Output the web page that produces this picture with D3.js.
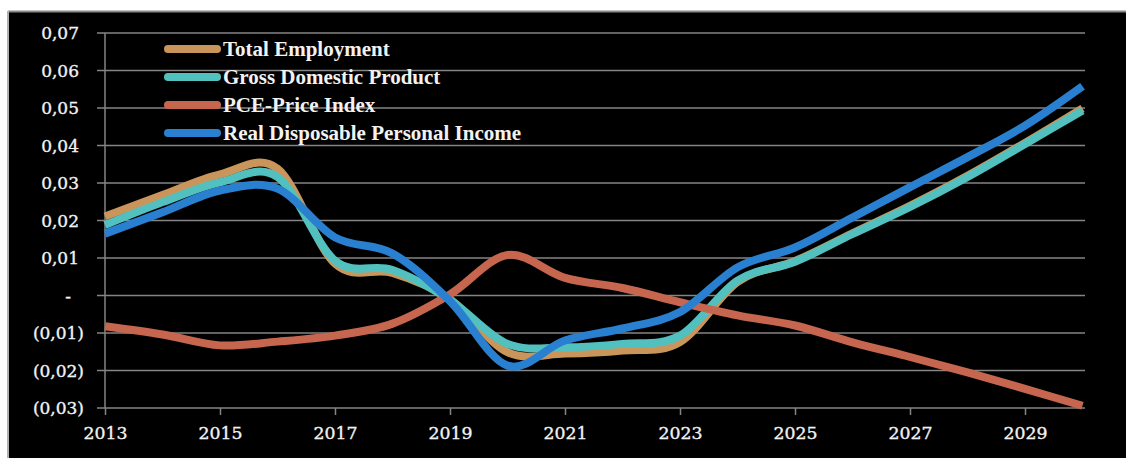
<!DOCTYPE html>
<html>
<head>
<meta charset="utf-8">
<script src="https://cdn.jsdelivr.net/npm/d3@7"></script>
<style>
  html, body { margin: 0; padding: 0; background: #ffffff; }
  svg { display: block; }
  text { fill: #f2f2f2; }
  .tick-label { font-family: "DejaVu Serif", serif; }
  .legend-label { font-family: "Liberation Serif", serif; font-weight: bold; }
</style>
</head>
<body>
<svg id="chart" width="1126" height="458"></svg>
<script>
// Annual growth forecasts, 2013-2030
const years = [2013, 2014, 2015, 2016, 2017, 2018, 2019, 2020, 2021,
               2022, 2023, 2024, 2025, 2026, 2027, 2028, 2029, 2030];

const totalEmployment = [0.0211, 0.0268, 0.0323, 0.0338, 0.0085, 0.0060, -0.0010, -0.0151, -0.0155,
                         -0.0147, -0.0124, 0.0036, 0.0092, 0.0166, 0.0239, 0.0319, 0.0407, 0.0499];
const grossDomesticProduct = [0.0188, 0.0249, 0.0302, 0.0316, 0.0093, 0.0068, -0.0012, -0.0129, -0.0138,
                              -0.0129, -0.0107, 0.0040, 0.0090, 0.0164, 0.0236, 0.0316, 0.0404, 0.0493];
const pcePriceIndex = [-0.0082, -0.0104, -0.0133, -0.0123, -0.0107, -0.0075, 0.0003, 0.0108, 0.0047,
                       0.0020, -0.0018, -0.0053, -0.0080, -0.0125, -0.0164, -0.0205, -0.0249, -0.0294];
const realDisposableIncome = [0.0165, 0.0222, 0.0280, 0.0285, 0.0155, 0.0112, -0.0015, -0.0187, -0.0120,
                              -0.0088, -0.0044, 0.0075, 0.0128, 0.0208, 0.0289, 0.0369, 0.0453, 0.0558];

const seriesNames = ["Total Employment", "Gross Domestic Product", "PCE-Price Index", "Real Disposable Personal Income"];
const seriesColors = ["#c9955a", "#52c0be", "#c7664e", "#2a80d0"];
const seriesValues = [totalEmployment, grossDomesticProduct, pcePriceIndex, realDisposableIncome];

const xTickYears = [2013, 2015, 2017, 2019, 2021, 2023, 2025, 2027, 2029];
const yTickValues = [-0.03, -0.02, -0.01, 0, 0.01, 0.02, 0.03, 0.04, 0.05, 0.06, 0.07];

const svg = d3.select("#chart");

// Black panel with a thin grey frame on the top and left
svg.append("rect").attr("x", 8).attr("y", 11).attr("width", 1118).attr("height", 447).attr("fill", "#000");
svg.append("line").attr("x1", 8).attr("x2", 1126).attr("y1", 11.5).attr("y2", 11.5)
  .attr("stroke", "#8a8a8a").attr("stroke-width", 2);
svg.append("line").attr("x1", 8).attr("x2", 8).attr("y1", 11).attr("y2", 458)
  .attr("stroke", "#b0b0b0").attr("stroke-width", 2);

const x = d3.scaleLinear().domain([2013, 2030]).range([105, 1082.5]);
const y = d3.scaleLinear().domain([-0.03, 0.07]).range([408, 33]);

const numFmt = d3.format(".2f");
function yLabel(v) {
  if (Math.abs(v) < 1e-9) return "-";
  const s = numFmt(Math.abs(v)).replace(".", ",");
  return v < 0 ? "(" + s + ")" : s;
}

// Horizontal gridlines with short outer ticks
const grid = svg.append("g");
grid.selectAll("line").data(yTickValues).join("line")
  .attr("x1", 97).attr("x2", 1085)
  .attr("y1", d => y(d)).attr("y2", d => y(d))
  .attr("stroke", "#858585").attr("stroke-width", 1.5);

// Vertical axis line
svg.append("line").attr("x1", x(2013)).attr("x2", x(2013))
  .attr("y1", y(0.07)).attr("y2", y(-0.03))
  .attr("stroke", "#858585").attr("stroke-width", 1.5);

// Y tick labels: positives leave room for the closing parenthesis
svg.append("g").selectAll("text").data(yTickValues).join("text")
  .attr("class", "tick-label")
  .attr("x", d => d < 0 ? 84 : (Math.abs(d) < 1e-9 ? 71 : 79))
  .attr("y", d => y(d))
  .attr("dy", "0.36em")
  .attr("text-anchor", "end")
  .attr("font-size", 17)
  .attr("stroke", "#f2f2f2").attr("stroke-width", 0.35)
  .text(yLabel);

// X axis ticks and labels
const xAxis = d3.axisBottom(x)
  .tickValues(xTickYears)
  .tickSize(7)
  .tickPadding(12)
  .tickFormat(d => String(d));
const xg = svg.append("g").attr("transform", `translate(0,${y(-0.03)})`).call(xAxis);
xg.attr("font-family", null).attr("font-size", null);
xg.select(".domain").remove();
xg.selectAll(".tick line").attr("stroke", "#858585").attr("stroke-width", 1.5);
xg.selectAll(".tick text")
  .attr("class", "tick-label")
  .attr("font-size", 17.3)
  .attr("fill", "#f2f2f2")
  .attr("stroke", "#f2f2f2").attr("stroke-width", 0.35);

// Smoothed series lines
const line = d3.line()
  .x((d, i) => x(years[i]))
  .y(d => y(d))
  .curve(d3.curveCatmullRom.alpha(0));

const lines = svg.append("g");
seriesValues.forEach((vals, k) => {
  lines.append("path")
    .datum(vals)
    .attr("d", line)
    .attr("fill", "none")
    .attr("stroke", seriesColors[k])
    .attr("stroke-width", 8)
    .attr("stroke-linejoin", "round");
});

// Legend
const legend = svg.append("g");
seriesNames.forEach((name, k) => {
  const cy = 49 + k * 28;
  legend.append("line")
    .attr("x1", 168).attr("x2", 217)
    .attr("y1", cy).attr("y2", cy)
    .attr("stroke", seriesColors[k])
    .attr("stroke-width", 8)
    .attr("stroke-linecap", "round");
  legend.append("text")
    .attr("class", "legend-label")
    .attr("x", 223).attr("y", cy)
    .attr("dy", "0.34em")
    .attr("font-size", 21)
    .text(name);
});
</script>
</body>
</html>
